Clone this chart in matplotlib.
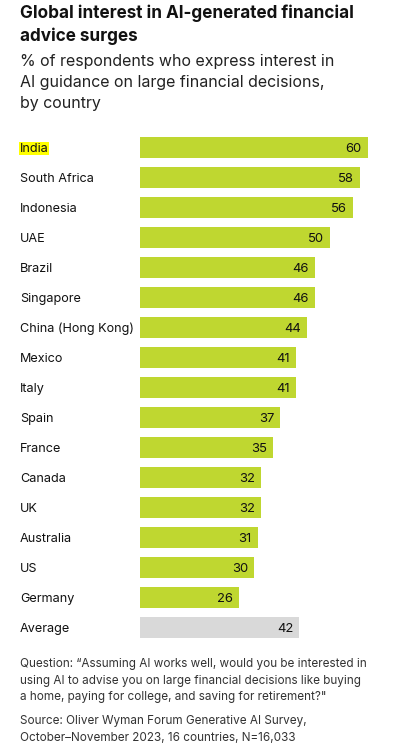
import matplotlib
matplotlib.use("Agg")
import matplotlib.pyplot as plt
from matplotlib.transforms import blended_transform_factory, ScaledTranslation

countries = ["India", "South Africa", "Indonesia", "UAE", "Brazil", "Singapore",
             "China (Hong Kong)", "Mexico", "Italy", "Spain", "France", "Canada",
             "UK", "Australia", "US", "Germany", "Average"]
values = [60, 58, 56, 50, 46, 46, 44, 41, 41, 37, 35, 32, 32, 31, 30, 26, 42]

title = "Global interest in AI-generated financial\nadvice surges"
subtitle = "% of respondents who express interest in\nAI guidance on large financial decisions,\nby country"
note = ("Question: \u201cAssuming AI works well, would you be interested in\n"
        "using AI to advise you on large financial decisions like buying\n"
        "a home, paying for college, and saving for retirement?\"")
source = "Source: Oliver Wyman Forum Generative AI Survey,\nOctober\u2013November 2023, 16 countries, N=16,033"

plt.rcParams['font.family'] = ['Inter', 'DejaVu Sans']

W, H = 397, 748
fig = plt.figure(figsize=(W / 100, H / 100), dpi=100)

GREEN = "#BFD730"
GRAY = "#D9D9D9"

ax = fig.add_axes([140 / W, 1 - 642.2 / H, 227.7 / W, 510 / H])
ypos = list(range(len(countries)))
colors = [GREEN] * (len(countries) - 1) + [GRAY]
ax.barh(ypos, values, height=0.7, color=colors)
ax.set_xlim(0, 60)
ax.set_ylim(len(countries) - 0.5, -0.5)
ax.axis("off")

# values
off = ScaledTranslation(-6 / 100, -1.5 / 100, fig.dpi_scale_trans)
for y, v in zip(ypos, values):
    ax.text(v, y, str(v), ha="right", va="center", fontsize=9.4, color="#111111",
            transform=ax.transData + off)

# country labels
trans = blended_transform_factory(fig.transFigure, ax.transData) + \
    ScaledTranslation(0, -1.5 / 100, fig.dpi_scale_trans)
for y, c in zip(ypos, countries):
    kw = {}
    if c == "India":
        kw["bbox"] = dict(boxstyle="square,pad=0.05", fc="#FFFF00", ec="none")
    ax.text(20 / W, y, c, ha="left", va="center", fontsize=9.1, color="#111111",
            transform=trans, **kw)

fig.text(20 / W, 1 - 5 / H, title, ha="left", va="top", fontsize=12.35,
         fontweight="bold", color="#111111", linespacing=1.35)
fig.text(20 / W, 1 - 54 / H, subtitle, ha="left", va="top", fontsize=11.5,
         color="#222222", linespacing=1.48)
fig.text(20 / W, 1 - 658 / H, note, ha="left", va="top", fontsize=8.45,
         color="#333333", linespacing=1.52)
fig.text(20 / W, 1 - 715 / H, source, ha="left", va="top", fontsize=8.45,
         color="#333333", linespacing=1.52)

fig.savefig("out.png", dpi=100, facecolor="white")
